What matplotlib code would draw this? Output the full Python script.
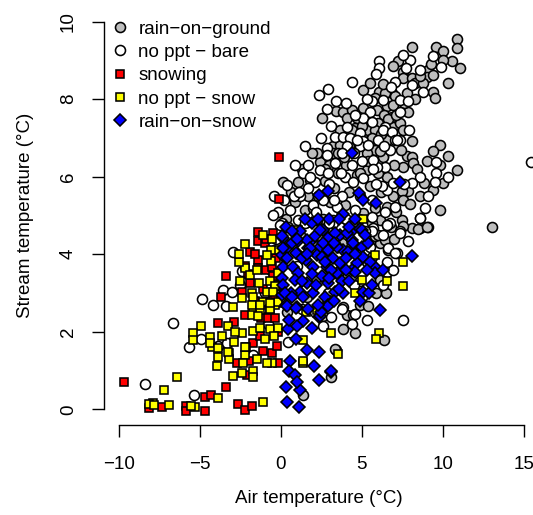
import matplotlib
matplotlib.use("Agg")
import matplotlib.pyplot as plt
from matplotlib.lines import Line2D

plt.rcParams['font.family'] = ['Liberation Sans', 'DejaVu Sans']

# ---------------- data ----------------
ground_x = [10.86, 10.86, 9.56, 9.99, 8.08, 7.25, 10.55, 11.06, 6.91, 7.56, 7.56, 8.08, 9.11, 9.0, 9.41,
            8.28, 8.8, 10.34, 5.09, 5.51, 6.08, 6.84, 7.05, 7.77, 9.41, 9.52, 3.41, 2.56, 3.86, 4.37,
            5.09, 5.81, 6.43, 6.53, 6.95, 5.92, 6.37, 6.84, 7.87, 4.07, 4.68, 6.02, 6.95, 7.36, 7.56,
            3.65, 4.58, 5.40, 5.81, 4.68, 5.51, 6.53, 8.08, 9.83, 9.41, 10.34, 7.77, 8.08, 6.33, 3.24,
            3.65, 5.81,
            10.86, 10.03, 9.42, 9.83, 8.18, 7.56, 8.84, 7.87, 7.46, 6.95, 6.33, 9.11, 13.04, 0.11, 1.08,
            1.8, 2.42, 3.55, 4.68, 5.3, 6.54, 5.51, 6.54, 7.56, 6.12, 7.46, 8.08, 0.88, 1.70, 1.49,
            1.6, 3.04, 3.96, 5.09, 4.48, 2.52, 3.24, 5.3, 6.12, 2.21,
            5.4, 6.12, 5.61, 8.6, 8.49, 9.04, 7.56, 5.81, 6.43, 6.12, 4.89, 5.4, 6.35, 3.39, 3.1,
            1.39, 3.86, 4.58, 4.06, 3.35, 3.86, 4.48,
            0.6, 1.3, 2.0, 2.7, 3.3, 4.2, 4.0, 4.9, 5.8, 6.2, 2.6, 3.6, 0.3, 1.2, 2.2, 3.2, 3.8, 4.8,
            5.3, 5.6, 6.0, 6.6, 6.8, 7.0, 5.9, 6.5, 4.9, 2.6, 1.6, 0.4,
            3.0, 3.9, 4.4, 5.0, 5.6, 6.2, 6.6, 7.1, 7.6, 8.3, 8.6, 9.3, 10.0, 6.3, 5.4, 4.9, 4.2, 3.5,
            2.7, 7.0, 7.4, 8.4, 9.0, 9.8, 8.0, 8.6, 7.1, 6.0, 1.9, 2.3]
ground_y = [9.54, 9.31, 9.35, 9.23, 9.34, 8.99, 8.97, 8.80, 8.86, 8.71, 8.54, 8.54, 8.75, 8.58, 8.62,
            8.41, 8.41, 8.41, 8.24, 8.41, 8.19, 8.15, 8.07, 8.15, 8.19, 8.02, 7.70, 7.51, 7.68, 7.72,
            7.77, 8.02, 8.15, 7.81, 7.85, 7.72, 7.59, 7.55, 7.68, 7.51, 7.51, 7.38, 7.29, 7.38, 7.21,
            7.21, 7.25, 7.21, 7.21, 7.03, 6.95, 6.95, 6.91, 6.82, 6.65, 6.54, 6.54, 6.50, 6.54, 6.78,
            6.82, 6.69,
            6.18, 5.83, 5.66, 5.13, 6.35, 6.26, 5.83, 5.62, 5.62, 5.49, 6.52, 4.71, 4.71, 5.87, 5.87,
            5.92, 6.39, 6.09, 6.05, 6.17, 6.00, 5.75, 5.23, 5.40, 4.89, 4.89, 4.67, 5.36, 5.49, 5.14,
            4.84, 5.36, 5.27, 5.06, 4.84, 4.71, 6.6, 6.6, 6.65, 6.6,
            4.42, 4.29, 3.94, 4.67, 4.65, 4.70, 4.73, 4.46, 4.37, 3.34, 2.70, 2.67, 1.79, 1.54, 0.85,
            0.38, 2.07, 1.98, 2.44, 1.55, 2.65, 2.44,
            5.6, 6.2, 5.2, 5.9, 5.7, 5.6, 6.3, 5.5, 5.2, 5.6, 4.9, 4.7, 4.9, 4.5, 3.4, 4.6, 4.3, 4.9,
            3.8, 4.8, 4.5, 4.1, 4.7, 4.4, 3.0, 3.0, 3.3, 2.4, 2.9, 2.5,
            6.3, 6.5, 7.2, 7.3, 7.0, 7.1, 7.5, 7.6, 7.9, 8.0, 8.6, 8.9, 9.0, 8.4, 6.4, 6.1, 6.8, 6.6,
            6.2, 6.3, 6.7, 6.2, 6.4, 6.3, 5.3, 5.5, 5.1, 6.1, 6.6, 5.5]

bare_x = [7.98, 7.56, 9.37, 9.89, 6.08, 6.08, 5.88, 8.59, 7.05, 8.08, 4.37, 7.36, 7.87, 8.8, 2.38,
          2.89, 3.41, 2.83, 5.61, 6.33, 5.51, 7.36, 5.09, 5.61, 6.43, 4.07, 4.89, 6.33, 6.84, 3.35,
          3.86, 4.27, 5.09, 6.02, 7.05, 7.36, 2.83, 4.07, 4.89, 5.40,
          15.45, 9.56, 9.56, 10.34, 9.52, 9.11, 8.59, 8.08, 6.54, 6.43, 8.59, 0.36, 1.39, 2.11, 2.42,
          2.93, 3.35, 3.96, 4.48, 5.09, 5.92, 6.95, 6.23, 7.05, 6.43, 6.74, -0.15, -0.46, 0.57, 1.19,
          2.01, 1.08, 2.21, 3.45, 4.58, 5.61, 3.24, 0.05, 3.65, 5.71, 1.70, 3.76, 4.68, 5.71, 6.74,
          7.15, 2.83,
          5.61, 6.33, 7.36, 6.64, 7.15, 8.6, 7.36, 7.87, 6.58, 7.05, 6.58, 6.53, 4.58, 7.56, 4.37,
          3.08, 2.63, 2.11, 0.46, 6.53, -0.05, 0.47, 3.24,
          -2.93, -4.85, -4.16, -3.38, -3.55, -3.03, -2.52, -2.42, -6.67, -4.9, -5.65, -3.86, -3.3,
          -1.7, -8.38, -5.36,
          0.5, 1.0, 1.5, 2.0, 2.5, 3.0, 3.5, 4.0, 4.5, 5.2, 5.5, 0.8, 1.7, 2.6, 3.0, 3.8, 4.4, 5.0,
          5.6, 5.9, -0.3, -0.6, -0.2, 1.3, 2.9, 3.8, 5.0, 6.3, 6.9, 5.3, -1.0, -0.8,
          3.1, 4.6, 5.3, 6.8, 7.7, 4.0, 3.7, 4.5, 5.7, 6.4, 7.9, 2.5, 1.8, 1.1, 0.2, 0.9, 1.5, -0.4,
          8.9, 7.6, 3.3, 2.2]
bare_y = [9.01, 9.14, 9.11, 8.84, 8.97, 8.80, 8.64, 8.75, 8.45, 8.37, 8.45, 7.98, 7.94, 8.19, 8.11,
          8.25, 7.94, 7.75, 7.94, 7.98, 7.68, 7.68, 7.51, 7.42, 7.29, 7.29, 7.12, 7.21, 7.16, 7.03,
          7.03, 6.99, 6.91, 6.95, 6.95, 6.95, 6.73, 6.78, 6.78, 6.82,
          6.39, 6.39, 6.09, 5.99, 5.87, 5.49, 6.00, 5.83, 5.66, 6.26, 4.93, 5.79, 6.09, 5.87, 6.17,
          6.09, 6.35, 6.00, 5.87, 5.96, 6.26, 5.83, 5.75, 5.23, 5.10, 4.80, 5.10, 5.01, 5.14, 5.49,
          5.27, 4.89, 4.89, 5.23, 5.14, 4.97, 4.89, 4.80, 4.71, 4.67, 6.30, 6.6, 6.95, 6.43, 6.69,
          6.95, 6.56,
          4.59, 4.50, 4.59, 4.16, 4.03, 4.93, 4.54, 4.33, 4.76, 4.03, 3.81, 3.55, 2.46, 2.31, 2.21,
          2.39, 2.14, 2.52, 1.73, 4.76, 4.76, 4.71, 4.8,
          4.07, 2.86, 2.69, 2.67, 3.07, 3.04, 3.21, 3.58, 2.24, 1.81, 1.60, 1.64, 1.71,
          1.41, 0.66, 0.38,
          4.5, 3.7, 4.8, 4.3, 4.0, 4.8, 3.5, 4.9, 3.2, 4.6, 4.2, 5.5, 5.7, 5.4, 5.8, 5.5, 6.3, 6.4,
          5.4, 5.8, 4.4, 3.6, 3.2, 2.6, 3.0, 2.6, 2.9, 3.2, 3.6, 2.3, 3.0, 2.2,
          7.3, 7.6, 8.0, 8.3, 8.8, 7.9, 6.1, 6.6, 6.2, 6.8, 7.2, 7.0, 6.0, 5.6, 5.4, 6.3, 6.8, 5.5,
          5.2, 5.8, 5.4, 5.1]

snowing_x = [-0.1, -0.09, -1.39, -1.39, -1.92, -1.4, -1.4, -0.46, -3.38, -0.9, -0.5, -0.56, -3.71,
             -2.42, -1.9, -0.67, -0.46, -0.77, -0.36, -0.97, -3.9, -2.9, -2.21, -1.24, -0.77, -0.36,
             -0.26, -1.7, -2.15, -1.08, -0.56, -0.21, -0.15, -2.68, -1.94, -2.1, -3.36, -9.68, -8.14,
             -7.35, -5.85, -5.85, -4.67, -4.68, -4.33, -2.66, -2.2, -1.8, -1.1, -1.6, -0.3, -1.0, -2.0,
             -1.6, -0.9, -2.2, -0.2, -1.3]
snowing_y = [6.5, 5.42, 4.58, 4.35, 4.06, 3.85, 3.64, 4.55, 3.43, 3.60, 3.43, 3.68, 2.91,
             3.04, 3.25, 2.55, 2.95, 2.78, 3.21, 2.39, 2.22, 2.25, 2.44, 2.35, 2.35, 2.35,
             2.74, 1.71, 1.62, 1.52, 1.45, 1.64, 1.21, 1.19, 1.24, 0.89, 0.59, 0.72, 0.04,
             0.07, 0.09, -0.03, -0.03, 0.33, 0.38, 0.15, -0.02, 0.09, 3.1, 2.8, 3.9, 4.3, 3.5,
             4.0, 4.4, 3.7, 2.0, 1.9]

nosnow_x = [-2.21, -2.21, -1.9, -1.32, -0.67, -0.56, -0.25, -2.93, -2.42, -1.8, -1.12, -1.7, -0.87,
            -0.36, -0.36, -0.6, -0.6, -0.87, -0.46, -1.7, -1.8, -1.28, -0.67, -0.15, -0.15, 1.08,
            1.55, 2.21, 5.81, 6.53, 4.58, 4.99, 2.83, 5.05, 7.56, 7.56, 6.06, 5.88, 3.55, 1.39, 3.08,
            1.39, -4.93, -5.4, -5.4, -4.37, -4.27, -3.86, -3.96, -3.24, -2.89, -2.41, -1.7, -2.21,
            -3.18, -3.18, -2.31, -1.7, -2.41, -2.97, -1.08, -0.97, -0.56, -0.87, -0.67, -0.15, -1.28,
            -1.8, -1.28, -0.67, -6.39, -7.21, -7.87, -6.88, -5.3, -3.9, -8.14, -7.8, -5.53, -4.37,
            -3.86, -3.24, -2.21, -1.7, 1.39, -2.6, -1.5,
            -2.6, -1.1, -2.5, -1.4, -0.4, -1.5, -2.8, -3.6]
nosnow_y = [4.27, 3.64, 3.47, 3.27, 3.32, 4.39, 4.11, 2.64, 2.87, 3.01, 2.76, 2.57, 3.04,
            2.69, 3.17, 4.11, 3.84, 3.98, 3.04, 2.91, 2.70, 2.57, 2.58, 2.76, 3.51, 4.63,
            2.52, 2.57, 3.99, 3.30, 3.0, 3.34, 2.82, 4.9, 3.80, 3.19, 1.98, 1.81, 1.42, 1.21, 1.98,
            1.79, 2.14, 1.97, 1.79, 1.86, 1.62, 1.36, 1.11, 2.14, 1.73, 1.98, 2.03, 1.41,
            1.45, 1.30, 1.19, 1.0, 0.95, 0.87, 0.20, 1.81, 1.19, 1.19, 2.07, 2.09, 2.09,
            2.44, 2.70, 2.74, 0.84, 0.49, 0.16, 0.11, 0.07, 0.29, 0.15, 0.12, 0.08, 1.71,
            1.58, 1.47, 1.62, 0.85, 1.24, 3.8, 3.6,
            4.0, 4.5, 3.3, 2.4, 1.9, 1.3, 2.0, 1.9]

ros_x = [4.38, 2.89, 2.38, 4.85, 5.1, 5.88, 7.36, 3.86,
         0.12, 1.08, 0.36, 2.58, 1.90, 2.93, 3.65, 4.37, 4.89, 4.37, 3.55, 2.42, 1.70, 0.98, 0.05,
         2.93, 3.86, 4.48, 4.99, 2.21, 8.08,
         0.05, 0.16, 0.4, 0.16, 0.05, 0.16, 0.05, 0.32, 0.67, 0.94, 0.77, 1.08, 0.88, 1.18, 0.98,
         1.18, 1.6, 1.8, 1.55, 2.01, 1.6, 2.01, 2.11, 2.42, 2.63, 2.52, 2.83, 2.52, 2.93, 2.73, 2.93,
         3.35, 3.45, 3.24, 3.65, 3.45, 3.76, 3.35, 3.86, 4.07, 4.17, 4.48, 4.68, 4.37, 4.99, 5.09,
         5.81, 5.81, 5.09, 6.1, 5.44, 4.58,
         2.38, 1.6, 2.05, 3.08, 2.38, 1.19, 1.15, 2.38, 1.9, 1.4, 0.36, 0.92, 0.42, 0.98, 2.42, 2.93,
         0.92, 0.57, 0.53, 0.88, 0.98, 0.32, 0.4, 3.1,
         1.3, 2.2, 3.1, 4.0, 4.6, 5.4, 1.4, 2.5, 3.3, 0.6, 1.9, 3.0, 4.2, 5.5, 5.2,
         0.3, 0.7, 1.5, 2.3, 3.6, 4.2, 0.25, 0.7, 1.3, 1.9, 2.3, 3.0, 3.6, 4.0, 4.6, 5.3, 4.9, 1.7,
         0.5, 3.3, 2.7, 1.0, 1.6, 5.6, 6.3]
ros_y = [6.6, 5.64, 5.53, 5.59, 5.40, 5.33, 5.87, 5.04,
         4.43, 4.33, 4.16, 4.63, 4.37, 4.42, 4.50, 4.59, 4.65, 4.37, 4.20, 4.2, 4.16, 4.03, 3.99,
         4.11, 4.11, 4.11, 4.20, 3.98, 3.96,
         4.46, 4.16, 3.90, 3.68, 3.38, 3.21, 2.95, 2.70, 4.29, 4.03, 3.68, 3.51, 3.34, 3.04, 2.65,
         4.59, 4.37, 4.16, 3.86, 3.68, 3.25, 3.0, 4.46, 4.63, 4.29, 3.94, 3.68, 3.43, 3.25, 2.91, 2.70,
         4.54, 4.2, 3.90, 3.77, 3.51, 3.30, 3.04, 3.0, 4.54, 4.07, 4.29, 3.77, 3.60, 4.63, 3.94,
         3.68, 3.51, 3.04, 2.56, 3.01, 3.55,
         1.49, 1.54, 1.12, 0.96, 0.75, 0.5, 0.06, 2.38, 2.09, 2.27, 2.67, 2.61, 2.07, 2.16, 2.40, 2.67,
         1.81, 1.26, 1.0, 0.89, 0.70, 0.58, 0.19, 0.98,
         3.9, 3.2, 3.6, 3.9, 4.9, 4.3, 2.9, 2.5, 2.8, 3.0, 4.8, 4.9, 3.3, 3.8, 4.5,
         4.7, 4.6, 4.9, 4.9, 4.9, 4.7, 3.0, 2.9, 3.3, 3.5, 2.7, 3.4, 3.1, 3.6, 4.0, 3.6, 2.8, 2.6,
         2.3, 4.3, 3.8, 4.4, 4.0, 3.2, 3.6]

labels = ["rain\u2212on\u2212ground", "no ppt \u2212 bare", "snowing", "no ppt \u2212 snow",
          "rain\u2212on\u2212snow"]
x_ticks = [-10, -5, 0, 5, 10, 15]
y_ticks = [0, 2, 4, 6, 8, 10]

# ---------------- figure ----------------
W, H = 533, 515
fig = plt.figure(figsize=(W / 100, H / 100), dpi=100)
ax = fig.add_axes([104 / W, 1 - 425 / H, 1 - 104 / W, (425 - 6) / H])
ax.set_xlim(-10.914, 15.568)
ax.set_ylim(-0.4, 10.4)

ew = 1.15
series = [
    (ground_x, ground_y, 'o', '#BEBEBE', 7.2),
    (bare_x, bare_y, 'o', 'white', 7.2),
    (snowing_x, snowing_y, 's', '#FF0000', 6.4),
    (nosnow_x, nosnow_y, 's', '#FFFF00', 6.4),
    (ros_x, ros_y, 'D', '#0000FF', 5.9),
]
handles = []
for i, (xs, ys, m, c, s) in enumerate(series):
    ax.plot(xs, ys, linestyle='none', marker=m, markersize=s, markerfacecolor=c,
            markeredgecolor='black', markeredgewidth=ew, zorder=2 + i)
    handles.append(Line2D([], [], linestyle='none', marker=m, markersize=s,
                          markerfacecolor=c, markeredgecolor='black', markeredgewidth=ew))

for side in ['top', 'right']:
    ax.spines[side].set_visible(False)
ax.spines['left'].set_bounds(0, 10)
ax.spines['bottom'].set_bounds(-10, 15)
for side in ['left', 'bottom']:
    ax.spines[side].set_linewidth(1.0)

fs = 13.5
ax.set_xticks(x_ticks)
ax.set_yticks(y_ticks)
ax.set_xticklabels([("\u2212%d" % -v) if v < 0 else str(v) for v in x_ticks])
ax.set_yticklabels([str(v) for v in y_ticks], rotation=90, va='center')
ax.tick_params(axis='both', length=8.6, width=1.0, labelsize=fs)
ax.tick_params(axis='x', pad=14)
ax.tick_params(axis='y', pad=11)
ax.set_xlabel("Air temperature (\u00b0C)", fontsize=fs, labelpad=12)
ax.set_ylabel("Stream temperature (\u00b0C)", fontsize=fs, labelpad=18.5)

leg = ax.legend(handles, labels, loc='upper left', bbox_to_anchor=(112 / W, 1 - 20.5 / H),
                bbox_transform=fig.transFigure, frameon=False, fontsize=fs,
                handlelength=0.9, handletextpad=0.5, labelspacing=0.33, borderpad=0,
                borderaxespad=0)
leg.set_zorder(20)

fig.savefig("out.png", dpi=100)
